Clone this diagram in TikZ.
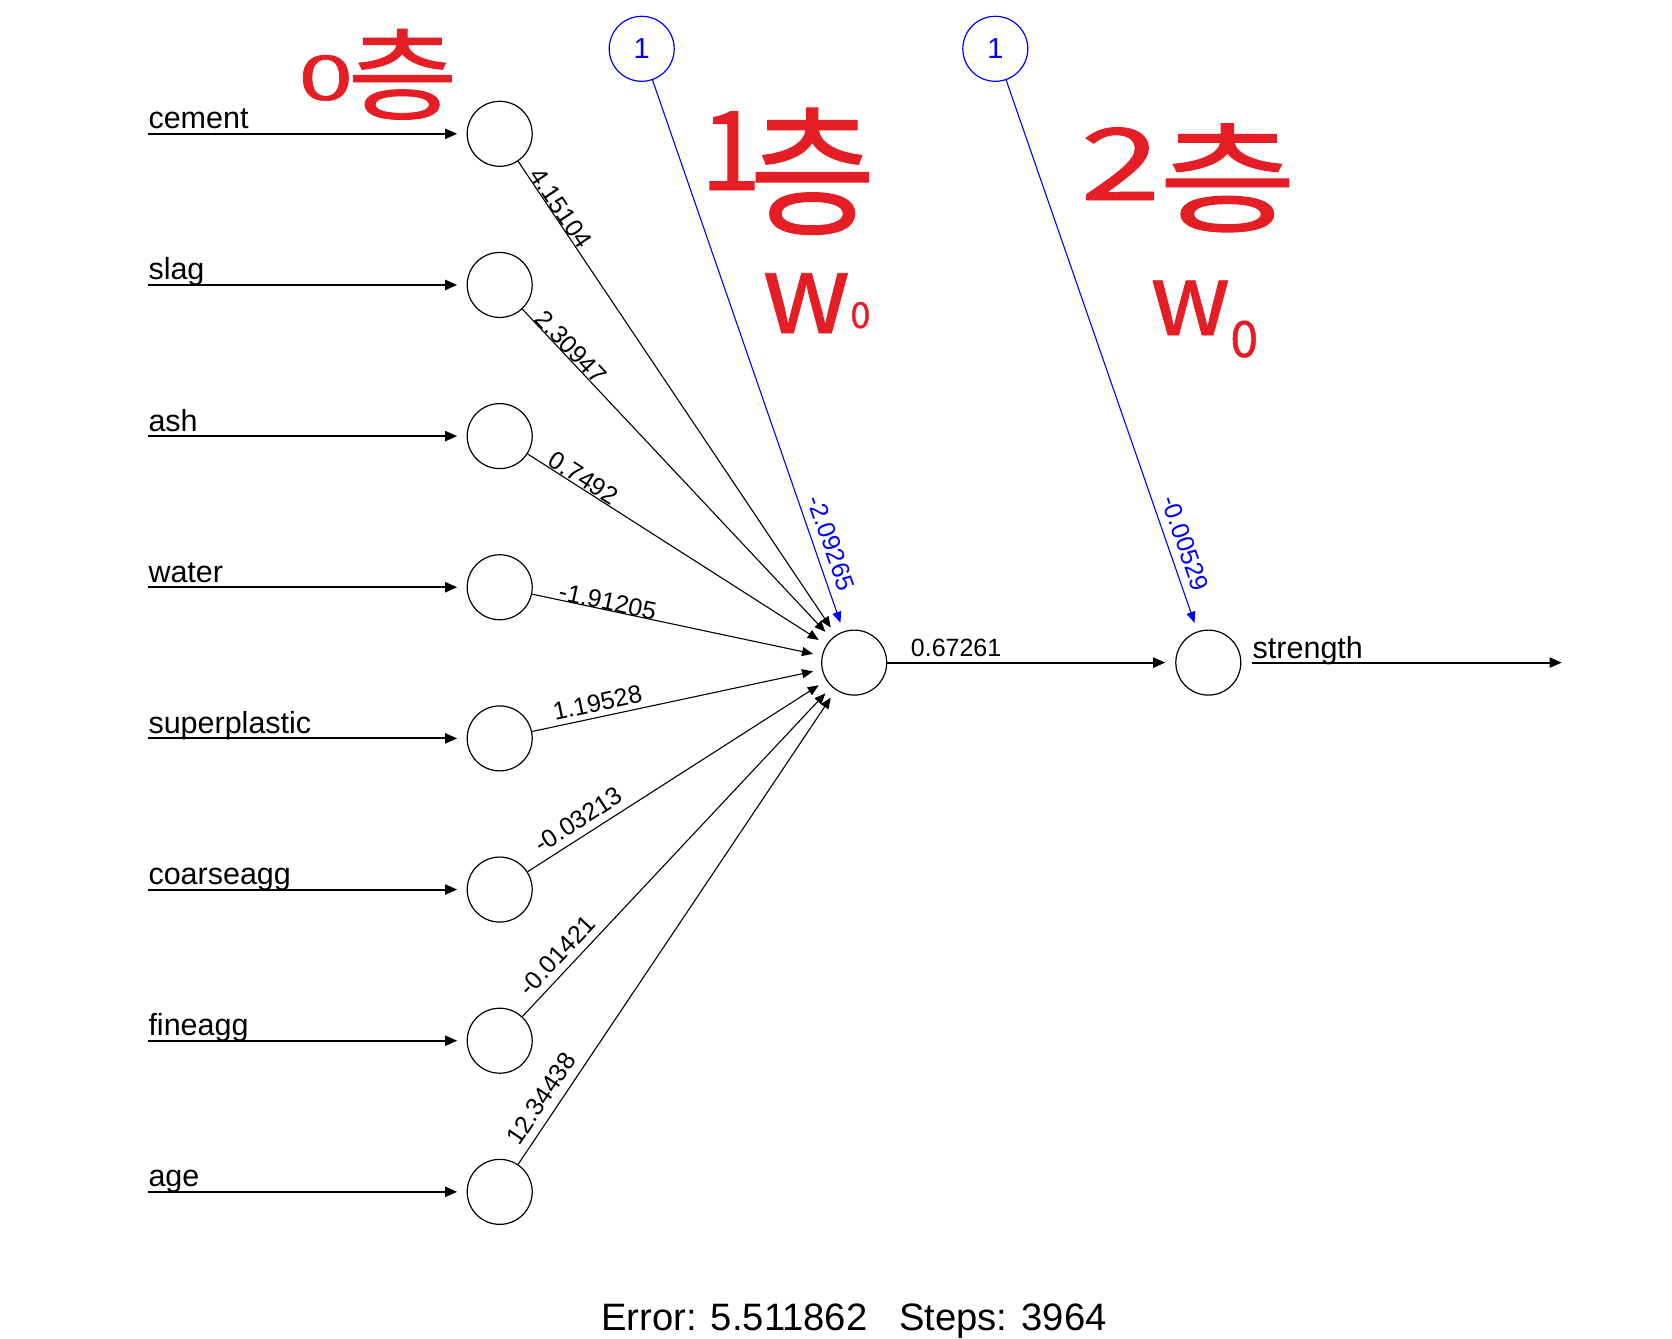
\documentclass[tikz,border=0pt]{standalone}
\usepackage{fontspec}
\setmainfont{Liberation Sans}
\newfontfamily\kr{Noto Sans CJK KR}[FakeBold=0.8]
\usetikzlibrary{arrows.meta}
\definecolor{biasblue}{RGB}{0,0,255}
\definecolor{penred}{RGB}{228,30,36}
\newcommand{\fsz}[1]{\fontsize{#1}{#1}\selectfont}
\tikzset{
  neuron/.style={circle, draw=black, line width=1.2pt, minimum size=65pt, inner sep=0pt},
  biasnode/.style={neuron, draw=biasblue, text=biasblue, font=\fontsize{29}{34}\selectfont},
  inlab/.style={font=\fontsize{30.5}{36}\selectfont, anchor=base west, inner sep=0pt},
  wlab/.style={font=\fontsize{25}{29}\selectfont, inner sep=0pt, sloped},
  thickarr/.style={-{Triangle[length=12pt,width=10pt]}, line width=2pt},
  thinarr/.style={-{Triangle[length=11pt,width=9pt]}, line width=1.1pt, shorten >=9pt},
  note/.style={text=penred, inner sep=0pt, anchor=base west, font=\kr}
}
\begin{document}
\begin{tikzpicture}[x=1pt,y=-1pt]
\useasboundingbox (0,0) rectangle (1672,1338);
\fill[white] (0,0) rectangle (1672,1338);

% input layer
\foreach \n/\lab/\yy in {1/cement/133.8, 2/slag/284.95, 3/ash/436.1, 4/water/587.25,
  5/superplastic/738.4, 6/coarseagg/889.55, 7/fineagg/1040.7, 8/age/1191.85}{
  \node[neuron] (i\n) at (499.7,\yy) {};
  \coordinate (s\n) at (148.3,\yy);
  \node[inlab] (l\n) at (148.3,\yy-5) {\lab};
  \draw[thickarr, shorten >=9.4pt] (s\n) -- (i\n);
}

% hidden and output
\node[neuron] (h) at (854.2,662.6) {};
\node[neuron] (o) at (1208.3,662.6) {};

% bias nodes
\node[biasnode] (b1) at (641.7,48.8) {1};
\node[biasnode] (b2) at (995.3,48.8) {1};

% input -> hidden
\draw[thinarr] (i1) -- node[wlab, pos=0.11, above=0pt] {4.15104} (h);
\draw[thinarr] (i2) -- node[wlab, pos=0.135, above=0pt] {2.30947} (h);
\draw[thinarr] (i3) -- node[wlab, pos=0.17, above=0.5pt] {0.7492} (h);
\draw[thinarr] (i4) -- node[wlab, pos=0.255, above=-1pt] {-1.91205} (h);
\draw[thinarr] (i5) -- node[wlab, pos=0.236, above=5pt] {1.19528} (h);
\draw[thinarr] (i6) -- node[wlab, pos=0.2, above=7pt] {-0.03213} (h);
\draw[thinarr] (i7) -- node[wlab, pos=0.152, above=7pt] {-0.01421} (h);
\draw[thinarr] (i8) -- node[wlab, pos=0.118, above=8pt] {12.34438} (h);

% bias edges
\draw[thinarr, draw=biasblue] (b1) -- node[wlab, text=biasblue, pos=0.85, above=8pt] {-2.09265} (h);
\draw[thinarr, draw=biasblue] (b2) -- node[wlab, text=biasblue, pos=0.851, above=8pt] {-0.00529} (o);

% hidden -> output
\draw[thickarr, shorten >=10pt] (h) -- node[wlab, pos=0.239, above=5pt] {0.67261} (o);

% output arrow
\coordinate (oend) at (1561.7,662.6);
\draw[thickarr, shorten <=11pt] (o) -- (oend);
\node[inlab] (outlab) at (1252.5,658) {strength};

% error line
\node[font=\fontsize{38.2}{44}\selectfont, anchor=base, inner sep=0pt] (err) at (854,1330) {Error: 5.511862~~~Steps: 3964};

% handwritten annotations
\node[note] (n0) at (298,112) {{\fsz{62}\raisebox{12pt}{\scalebox{1.6}[1]{0}}}\hspace{-6pt}{\fsz{100}\scalebox{1.2}[1]{층}}};
\node[note] (n1) at (700,224) {{\fsz{110}\raisebox{34pt}{1}}\hspace{-12pt}{\fsz{125}\scalebox{1.1}[1.12]{층}}};
\node[note] (w1) at (762,333) {{\fsz{110}w}{\fsz{36}\raisebox{5pt}{0}}};
\node[note] (n2) at (1080,223) {{\fsz{100}\raisebox{23pt}{\scalebox{1.45}[1]{2}}}\hspace{-2pt}{\fsz{120}\scalebox{1.25}[1]{층}}};
\node[note] (w2) at (1150,335) {{\fsz{100}w}{\fsz{50}\raisebox{-22pt}{0}}};
\end{tikzpicture}
\end{document}
